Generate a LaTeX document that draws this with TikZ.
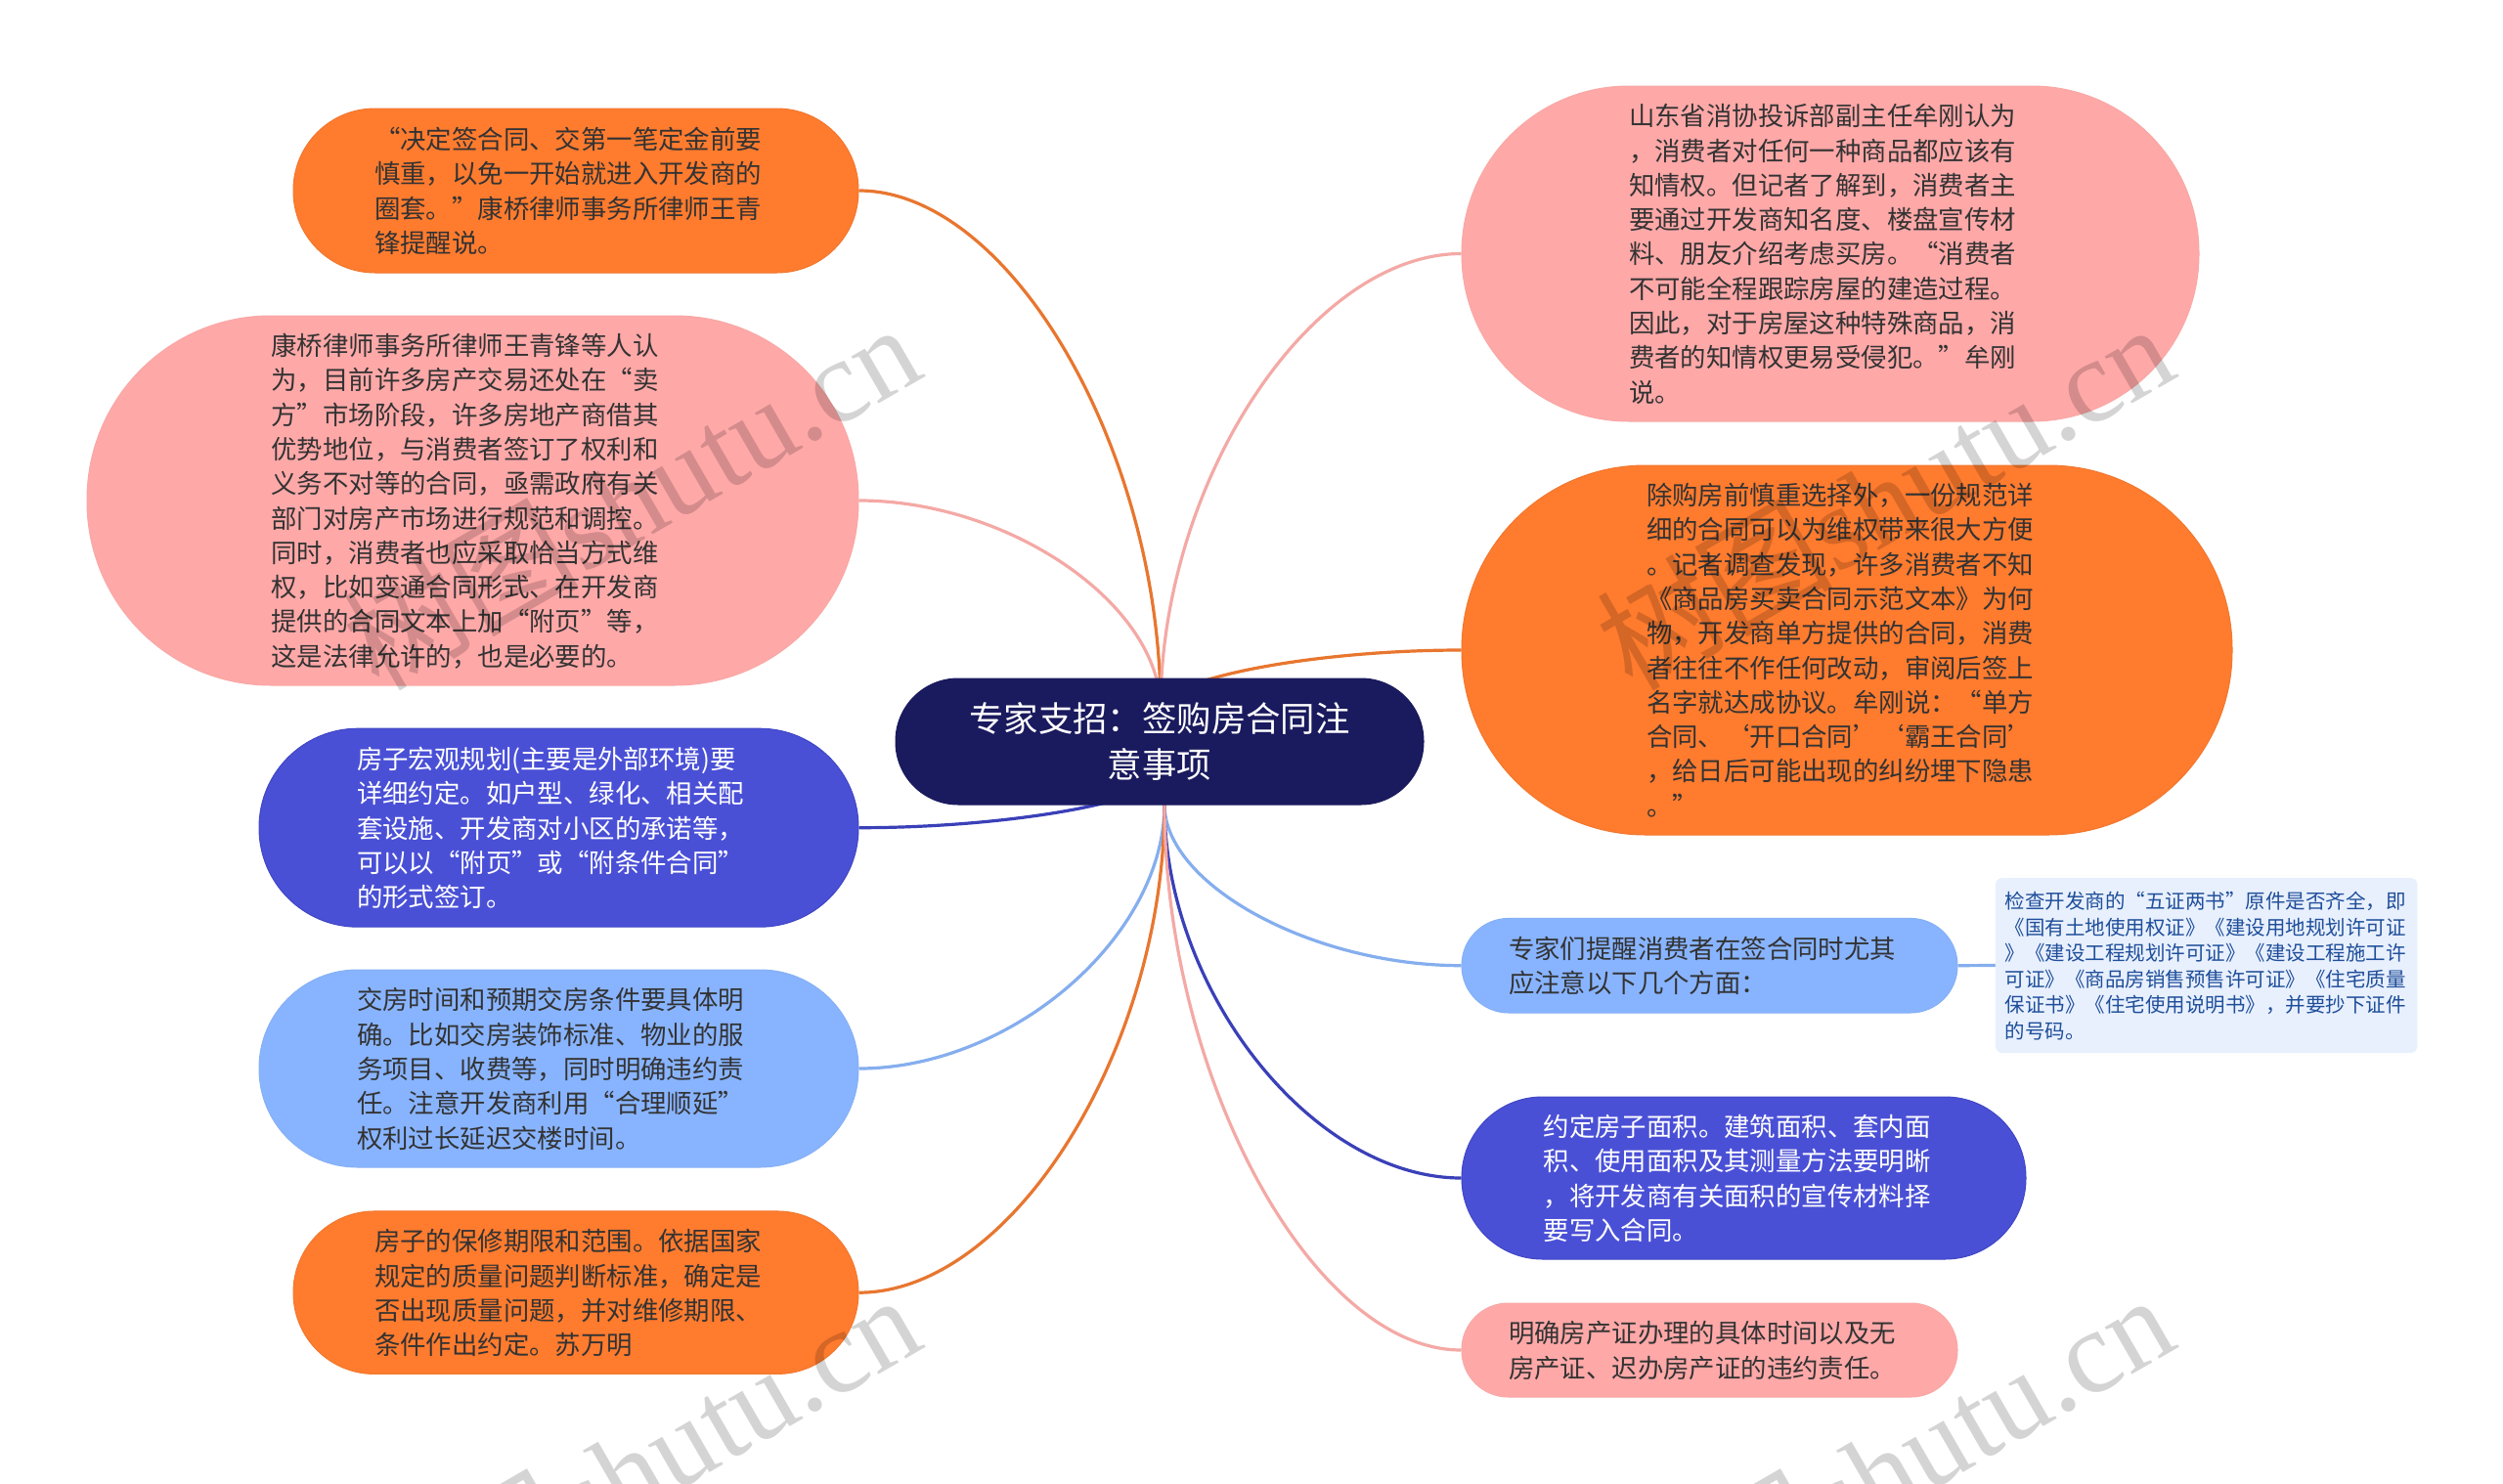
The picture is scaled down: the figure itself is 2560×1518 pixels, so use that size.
\documentclass[tikz,border=0pt]{standalone}
\usepackage{fontspec}
\setmainfont{Noto Sans CJK SC}
\newfontfamily\wmlatin{Liberation Serif}
\usetikzlibrary{calc}
\pgfdeclarelayer{bg}
\pgfsetlayers{bg,main}
\definecolor{cOrange}{HTML}{FF7B2E}
\definecolor{cPink}{HTML}{FFA8A8}
\definecolor{cBlue}{HTML}{4A50D6}
\definecolor{cSky}{HTML}{88B4FF}
\definecolor{cNavy}{HTML}{1A1A5E}
\definecolor{cNote}{HTML}{E8F0FE}
\definecolor{cNoteText}{HTML}{1F4E9A}
\definecolor{eOrange}{HTML}{E8762F}
\definecolor{ePink}{HTML}{F4A9A5}
\definecolor{eBlue}{HTML}{3A40B8}
\definecolor{eSky}{HTML}{85AEEE}
\definecolor{cInk}{HTML}{333333}
\newcommand{\pilltext}[3]{\hbox to #1pt{\hskip #2pt\raisebox{\dimexpr-.25em-3pt\relax}[0pt][0pt]{\begin{tabular}{@{}l@{}}#3\end{tabular}}\hss}}
\newcommand{\conn}[3]{\draw[#1] (#2) .. controls ($(#2)!.5!(#3 |- #2)$) and ($(#3)!.5!(#3 |- #2)$) .. (#3);}
\tikzset{
  pill/.style={rectangle,inner sep=0pt,line width=1pt,text=cInk,font=\fontsize{26.4}{35.3}\selectfont},
  pillorange/.style={pill,fill=cOrange,draw=eOrange!60!cOrange},
  pillpink/.style={pill,fill=cPink,draw=ePink!60!cPink},
  pillblue/.style={pill,fill=cBlue,draw=eBlue!60!cBlue,text=white},
  pillsky/.style={pill,fill=cSky,draw=eSky!60!cSky},
  edgeline/.style={line width=3.2pt},
  watermark/.style={rotate=30,text=black,opacity=0.17,font=\fontsize{121}{123}\selectfont,inner sep=0pt}
}
\begin{document}
\begin{tikzpicture}[x=1pt,y=-1pt]
\path[use as bounding box] (0,0) rectangle (2560,1518);
\clip (0,0) rectangle (2560,1518);

\node[rectangle,fill=cNavy,draw=cNavy,line width=1pt,text=white,inner sep=0pt,minimum width=540pt,minimum height=129pt,rounded corners=64pt,align=center,font=\fontsize{35.4}{47}\selectfont] (root) at (1186,758.5) {专家支招：签购房合同注\\意事项};

\node[pillorange,minimum width=578pt,minimum height=168pt,rounded corners=83.5pt] (n1) at (589,195) {\pilltext{578}{83}{“决定签合同、交第一笔定金前要\\慎重，以免一开始就进入开发商的\\圈套。”康桥律师事务所律师王青\\锋提醒说。}};
\node[pillpink,minimum width=789pt,minimum height=378pt,rounded corners=188pt] (n2) at (483.5,512) {\pilltext{789}{188.5}{康桥律师事务所律师王青锋等人认\\为，目前许多房产交易还处在“卖\\方”市场阶段，许多房地产商借其\\优势地位，与消费者签订了权利和\\义务不对等的合同，亟需政府有关\\部门对房产市场进行规范和调控。\\同时，消费者也应采取恰当方式维\\权，比如变通合同形式、在开发商\\提供的合同文本上加“附页”等，\\这是法律允许的，也是必要的。}};
\node[pillblue,minimum width=613pt,minimum height=203pt,rounded corners=101pt] (n3) at (571.5,846.7) {\pilltext{613}{100}{房子宏观规划(主要是外部环境)要\\详细约定。如户型、绿化、相关配\\套设施、开发商对小区的承诺等，\\可以以“附页”或“附条件合同”\\的形式签订。}};
\node[pillsky,minimum width=613pt,minimum height=202pt,rounded corners=100.5pt] (n4) at (571.5,1093) {\pilltext{613}{100}{交房时间和预期交房条件要具体明\\确。比如交房装饰标准、物业的服\\务项目、收费等，同时明确违约责\\任。注意开发商利用“合理顺延”\\权利过长延迟交楼时间。}};
\node[pillorange,minimum width=578pt,minimum height=166.5pt,rounded corners=83pt] (n5) at (589,1322.2) {\pilltext{578}{83}{房子的保修期限和范围。依据国家\\规定的质量问题判断标准，确定是\\否出现质量问题，并对维修期限、\\条件作出约定。苏万明}};

\node[pillpink,minimum width=754pt,minimum height=343pt,rounded corners=171pt] (r1) at (1872,259.5) {\pilltext{754}{171}{山东省消协投诉部副主任牟刚认为\\，消费者对任何一种商品都应该有\\知情权。但记者了解到，消费者主\\要通过开发商知名度、楼盘宣传材\\料、朋友介绍考虑买房。“消费者\\不可能全程跟踪房屋的建造过程。\\因此，对于房屋这种特殊商品，消\\费者的知情权更易受侵犯。”牟刚\\说。}};
\node[pillorange,minimum width=788pt,minimum height=378pt,rounded corners=188pt] (r2) at (1889,665) {\pilltext{788}{189}{除购房前慎重选择外，一份规范详\\细的合同可以为维权带来很大方便\\。记者调查发现，许多消费者不知\\《商品房买卖合同示范文本》为何\\物，开发商单方提供的合同，消费\\者往往不作任何改动，审阅后签上\\名字就达成协议。牟刚说：“单方\\合同、‘开口合同’‘霸王合同’\\，给日后可能出现的纠纷埋下隐患\\。”}};
\node[pillsky,minimum width=507pt,minimum height=96.6pt,rounded corners=48pt] (r3) at (1748.5,987.7) {\pilltext{507}{48}{专家们提醒消费者在签合同时尤其\\应注意以下几个方面：}};
\node[rectangle,fill=cNote,inner sep=0pt,minimum width=431.5pt,minimum height=179pt,rounded corners=7pt,text=cNoteText,font=\fontsize{20.5}{26.5}\selectfont] (note) at (2256.7,987.5) {\pilltext{431.5}{10}{检查开发商的“五证两书”原件是否齐全，即\\《国有土地使用权证》《建设用地规划许可证\\》《建设工程规划许可证》《建设工程施工许\\可证》《商品房销售预售许可证》《住宅质量\\保证书》《住宅使用说明书》，并要抄下证件\\的号码。}};
\node[pillblue,minimum width=577pt,minimum height=166pt,rounded corners=82.5pt] (r4) at (1783.5,1205) {\pilltext{577}{83.6}{约定房子面积。建筑面积、套内面\\积、使用面积及其测量方法要明晰\\，将开发商有关面积的宣传材料择\\要写入合同。}};
\node[pillpink,minimum width=507pt,minimum height=96pt,rounded corners=47.5pt] (r5) at (1748.5,1381) {\pilltext{507}{48}{明确房产证办理的具体时间以及无\\房产证、迟办房产证的违约责任。}};

\coordinate (rup) at (1187,725);
\coordinate (rlow) at (1191,790);
\coordinate (rbot) at (1191,823);
\begin{pgfonlayer}{bg}
\fill[white] (0,0) rectangle (2560,1518);
\conn{edgeline,eOrange}{n1.east}{rup}
\conn{edgeline,ePink}{n2.east}{rup}
\conn{edgeline,eBlue}{n3.east}{rlow}
\conn{edgeline,eSky}{n4.east}{rbot}
\conn{edgeline,eOrange}{n5.east}{rbot}
\conn{edgeline,ePink}{r1.west}{rup}
\conn{edgeline,eOrange}{r2.west}{rup}
\conn{edgeline,eSky}{r3.west}{rbot}
\conn{edgeline,eBlue}{r4.west}{rbot}
\conn{edgeline,ePink}{r5.west}{rbot}
\draw[edgeline,eSky] (r3.east) -- (note.west);
\end{pgfonlayer}

\node[watermark] (wm1) at (645,507) {树图{\wmlatin shutu.cn}};
\node[watermark] (wm2) at (1927,507) {树图{\wmlatin shutu.cn}};
\node[watermark] (wm3) at (645,1500) {树图{\wmlatin shutu.cn}};
\node[watermark] (wm4) at (1927,1500) {树图{\wmlatin shutu.cn}};
\end{tikzpicture}
\end{document}
